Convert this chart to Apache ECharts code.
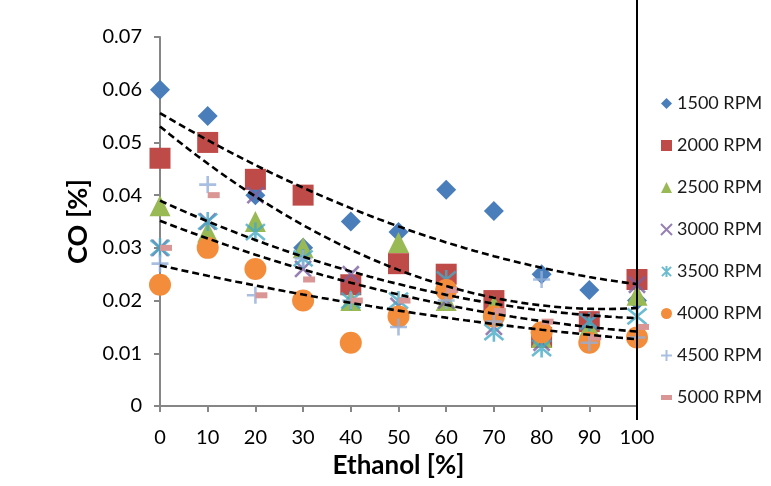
<!DOCTYPE html>
<html>
<head>
<meta charset="utf-8">
<script src="https://cdn.jsdelivr.net/npm/echarts@6/dist/echarts.min.js"></script>
<style>
  html, body { margin: 0; padding: 0; background: #ffffff; }
  #chart { width: 771px; height: 486px; }
</style>
</head>
<body>
<div id="chart"></div>
<script>
// Ethanol share in the blend [%]
const ethanol = [0, 10, 20, 30, 40, 50, 60, 70, 80, 90, 100];

// CO emission [%] per engine speed
const co1500 = [0.060, 0.055, 0.040, 0.030, 0.035, 0.033, 0.041, 0.037, 0.025, 0.022, 0.020];
const co2000 = [0.047, 0.050, 0.043, 0.040, 0.023, 0.027, 0.025, 0.020, 0.013, 0.016, 0.024];
const co2500 = [0.038, 0.033, 0.035, 0.030, 0.020, 0.031, 0.020, 0.019, 0.013, 0.015, 0.021];
const co3000 = [0.030, 0.035, 0.040, 0.026, 0.025, 0.019, 0.020, 0.015, 0.012, 0.016, 0.023];
const co3500 = [0.030, 0.035, 0.033, 0.028, 0.020, 0.020, 0.024, 0.014, 0.011, 0.016, 0.017];
const co4000 = [0.023, 0.030, 0.026, 0.020, 0.012, 0.017, 0.022, 0.017, 0.014, 0.012, 0.013];
const co4500 = [0.027, 0.042, 0.021, 0.028, 0.020, 0.015, 0.020, 0.016, 0.024, 0.012, 0.013];
const co5000 = [0.030, 0.040, 0.021, 0.024, 0.020, 0.020, 0.022, 0.018, 0.016, 0.013, 0.015];

const seriesNames = ['1500 RPM', '2000 RPM', '2500 RPM', '3000 RPM', '3500 RPM', '4000 RPM', '4500 RPM', '5000 RPM'];
const seriesValues = [co1500, co2000, co2500, co3000, co3500, co4000, co4500, co5000];

// Series that carry a second-order polynomial trendline
const trendSeries = ['1500 RPM', '2000 RPM', '2500 RPM', '3500 RPM', '4000 RPM'];

const yTickMin = 0, yTickMax = 0.07, yTickStep = 0.01;
const xTickMin = 0, xTickMax = 100, xTickStep = 10;

// Marker shapes
const pathX = 'path://M0,0 L20,20 M20,0 L0,20';
const pathStar = 'path://M0,0 L20,20 M20,0 L0,20 M10,-2 L10,22';
const pathPlus = 'path://M10,0 L10,20 M0,10 L20,10';

const markerStyles = [
  { symbol: 'diamond', size: 20, color: '#4A7EBB' },
  { symbol: 'rect', size: 21, color: '#BE4B48' },
  { symbol: 'triangle', size: 21, color: '#98B954' },
  { symbol: pathX, size: 16, color: '#7D60A0', stroke: true },
  { symbol: pathStar, size: 19, color: '#46AAC5', stroke: true },
  { symbol: 'circle', size: 22, color: '#F38D3C' },
  { symbol: pathPlus, size: 17, color: '#94AFDA', stroke: true },
  { symbol: 'rect', size: [12, 6], offset: [6, 0], color: '#DA9694' }
];

// Least-squares fit y = a + b x + c x^2
function quadFit(xs, ys) {
  let s0 = 0, s1 = 0, s2 = 0, s3 = 0, s4 = 0, t0 = 0, t1 = 0, t2 = 0;
  for (let i = 0; i < xs.length; i++) {
    const x = xs[i], y = ys[i];
    s0 += 1; s1 += x; s2 += x * x; s3 += x * x * x; s4 += x * x * x * x;
    t0 += y; t1 += x * y; t2 += x * x * y;
  }
  const M = [[s0, s1, s2, t0], [s1, s2, s3, t1], [s2, s3, s4, t2]];
  for (let c = 0; c < 3; c++) {
    for (let r = c + 1; r < 3; r++) {
      const f = M[r][c] / M[c][c];
      for (let k = c; k < 4; k++) M[r][k] -= f * M[c][k];
    }
  }
  const sol = [0, 0, 0];
  for (let r = 2; r >= 0; r--) {
    let v = M[r][3];
    for (let k = r + 1; k < 3; k++) v -= M[r][k] * sol[k];
    sol[r] = v / M[r][r];
  }
  return sol;
}

const series = [];
seriesNames.forEach((name, i) => {
  const m = markerStyles[i];
  const itemStyle = m.stroke
    ? { color: 'rgba(0,0,0,0)', borderColor: m.color, borderWidth: 2.6 }
    : { color: m.color, opacity: 1 };
  series.push({
    name: name,
    type: 'scatter',
    symbol: m.symbol,
    symbolSize: m.size,
    symbolOffset: m.offset || [0, 0],
    itemStyle: itemStyle,
    z: 2,
    data: ethanol.map((x, j) => [x, seriesValues[i][j]])
  });
});

trendSeries.forEach(name => {
  const idx = seriesNames.indexOf(name);
  const [a, b, c] = quadFit(ethanol, seriesValues[idx]);
  const pts = [];
  for (let x = xTickMin; x <= xTickMax; x += 2) pts.push([x, a + b * x + c * x * x]);
  series.push({
    name: name + ' trend',
    type: 'line',
    data: pts,
    showSymbol: false,
    smooth: false,
    silent: true,
    z: 3,
    lineStyle: { color: '#000000', width: 2.6, type: [7, 4] }
  });
});

const axisGray = '#868686';
const font = 'Lato, "Open Sans", sans-serif';

// Legend entries with compact icons
const legendIcons = ['diamond', 'rect', 'triangle', pathX, pathStar, 'circle', pathPlus, 'path://M0,0 H20 V9 H0 Z'];
const legendData = seriesNames.map((n, i) => ({ name: n, icon: legendIcons[i] }));

const chart = echarts.init(document.getElementById('chart'), null, { renderer: 'canvas' });
chart.setOption({
  animation: false,
  backgroundColor: '#ffffff',
  grid: { left: 160, top: 37, right: 134, bottom: 80, containLabel: false },
  xAxis: {
    type: 'value',
    min: xTickMin, max: xTickMax, interval: xTickStep,
    name: 'Ethanol [%]',
    nameLocation: 'middle',
    nameGap: 47,
    nameTextStyle: { fontFamily: font, fontSize: 26, fontWeight: 'bold', color: '#000' },
    axisLine: { show: true, lineStyle: { color: axisGray, width: 2 } },
    axisTick: { show: true, inside: false, length: 6, lineStyle: { color: axisGray, width: 2 } },
    axisLabel: { fontFamily: font, fontSize: 20, color: '#000', margin: 22 },
    splitLine: { show: false }
  },
  yAxis: {
    type: 'value',
    min: yTickMin, max: yTickMax, interval: yTickStep,
    name: 'CO [%]',
    nameLocation: 'middle',
    nameGap: 54,
    nameRotate: 90,
    nameTextStyle: { fontFamily: font, fontSize: 27, fontWeight: 'bold', color: '#000' },
    axisLine: { show: true, lineStyle: { color: axisGray, width: 2 } },
    axisTick: { show: true, inside: false, length: 6, lineStyle: { color: axisGray, width: 2 } },
    axisLabel: {
      fontFamily: font, fontSize: 20, color: '#000', margin: 18,
      formatter: v => (Math.abs(v) < 1e-9 ? '0' : v.toFixed(2))
    },
    splitLine: { show: false }
  },
  legend: {
    orient: 'vertical',
    left: 655,
    top: 89,
    itemWidth: 11,
    itemHeight: 11,
    itemGap: 23,
    textStyle: { fontFamily: font, fontSize: 18, color: '#1a1a1a', lineHeight: 19 },
    data: legendData
  },
  graphic: [
    { type: 'line', shape: { x1: 637, y1: 0, x2: 637, y2: 420 }, style: { stroke: '#000', lineWidth: 2 }, z: 10 }
  ],
  series: series
});
</script>
</body>
</html>
